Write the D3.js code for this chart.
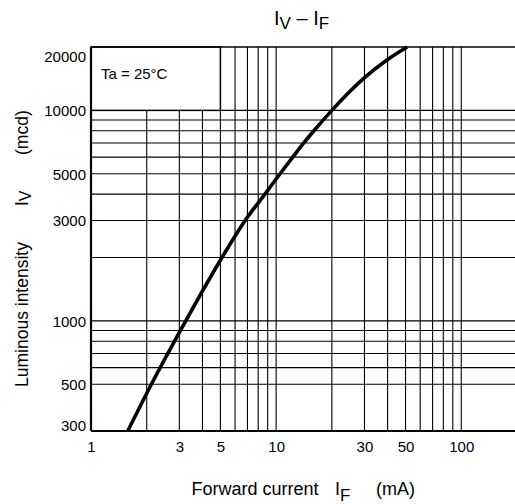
<!DOCTYPE html>
<html>
<head>
<meta charset="utf-8">
<script src="https://cdn.jsdelivr.net/npm/d3@7"></script>
<style>
  body { margin: 0; background: #fff; }
  svg { display: block; font-family: "Liberation Sans", Arial, sans-serif; }
</style>
</head>
<body>
<div id="chart"></div>
<script>
// IV - IF curve (Ta = 25°C)
const forwardCurrent = [1.58, 2.12, 3.25, 5.1, 6.8, 8.7, 10.5, 12.3, 14.1, 16.0, 20, 29.5, 39.5, 51];
const luminousIntensity = [300, 500, 1000, 2000, 3000, 4000, 5000, 6000, 7000, 8000, 10000, 14100, 17300, 20000];

const xTicks = [1, 3, 5, 10, 30, 50, 100];
const yTicks = [300, 500, 1000, 3000, 5000, 10000, 20000];
const xGrid = [2, 3, 4, 5, 6, 7, 8, 9, 10, 20, 30, 40, 50, 60, 70, 80, 90, 100];
const yGrid = [500, 600, 700, 800, 900, 1000, 2000, 3000, 4000, 5000, 6000, 7000, 8000, 9000, 10000];

const width = 515, height = 504;
const margin = { top: 47, left: 91, bottom: 73 };

const svg = d3.select("#chart").append("svg")
    .attr("width", width)
    .attr("height", height);

const x = d3.scaleLog().domain([1, 200]).range([margin.left, 517]);
const y = d3.scaleLog().domain([300, 20000]).range([height - margin.bottom, margin.top]);

const yTop = y.range()[1], yBottom = y.range()[0];

// grid
const grid = svg.append("g").attr("stroke", "#000").attr("stroke-width", 1.1);
grid.selectAll(".v").data(xGrid).join("line")
    .attr("x1", d => x(d)).attr("x2", d => x(d))
    .attr("y1", yBottom).attr("y2", yTop);
grid.selectAll(".h").data(yGrid).join("line")
    .attr("x1", margin.left).attr("x2", width)
    .attr("y1", d => y(d)).attr("y2", d => y(d));

// legend box in top-left corner
svg.append("rect")
    .attr("x", margin.left).attr("y", yTop)
    .attr("width", x(5) - margin.left).attr("height", y(10000) - yTop)
    .attr("fill", "#fff").attr("stroke", "#000").attr("stroke-width", 1.5);
svg.append("text")
    .attr("x", 101).attr("y", 79)
    .style("font-size", "15px")
    .text("Ta = 25°C");

// frame
svg.append("line").attr("x1", margin.left).attr("x2", width).attr("y1", yTop).attr("y2", yTop)
    .attr("stroke", "#000").attr("stroke-width", 1.6);
svg.append("line").attr("x1", margin.left).attr("x2", margin.left).attr("y1", yTop).attr("y2", yBottom)
    .attr("stroke", "#000").attr("stroke-width", 2.2);
svg.append("line").attr("x1", margin.left).attr("x2", width).attr("y1", yBottom).attr("y2", yBottom)
    .attr("stroke", "#000").attr("stroke-width", 2.2);

// curve
const pts = forwardCurrent.map((f, i) => [f, luminousIntensity[i]]);
const line = d3.line()
    .x(d => x(d[0]))
    .y(d => y(d[1]))
    .curve(d3.curveMonotoneX);
svg.append("path")
    .datum(pts)
    .attr("d", line)
    .attr("fill", "none")
    .attr("stroke", "#000")
    .attr("stroke-width", 3.6);

// axes
const xAxis = svg.append("g")
    .attr("transform", `translate(0,${yBottom})`)
    .call(d3.axisBottom(x).tickValues(xTicks).tickSize(0).tickPadding(10).tickFormat(d3.format("d")));
const yAxis = svg.append("g")
    .attr("transform", `translate(${margin.left},0)`)
    .call(d3.axisLeft(y).tickValues(yTicks).tickSize(0).tickPadding(5).tickFormat(d3.format("d")));
[xAxis, yAxis].forEach(a => {
    a.select(".domain").remove();
    a.selectAll("text")
        .attr("fill", "#000")
        .style("font-size", "15px")
        .style("font-family", "Liberation Sans, Arial, sans-serif");
});
// keep the end labels inside the frame
yAxis.selectAll(".tick text")
    .attr("dy", d => d === 20000 ? "0.95em" : d === 300 ? "-0.05em" : "0.35em");

// title
const title = svg.append("text")
    .attr("x", 274).attr("y", 25)
    .style("font-size", "20px");
title.append("tspan").text("I");
title.append("tspan").attr("dy", 4).style("font-size", "17px").text("V");
title.append("tspan").attr("dy", -4).text(" – I");
title.append("tspan").attr("dy", 4).style("font-size", "17px").text("F");

// x label
const xl = svg.append("text")
    .attr("y", 495)
    .style("font-size", "18px");
xl.append("tspan").attr("x", 191.5).text("Forward current");
xl.append("tspan").attr("x", 335).text("I");
xl.append("tspan").attr("dy", 6).style("font-size", "17px").text("F");
xl.append("tspan").attr("x", 376).attr("dy", -6).text("(mA)");

// y label
const yl = svg.append("text")
    .attr("transform", "translate(28,387) rotate(-90)")
    .style("font-size", "17.5px");
yl.append("tspan").attr("x", 0).text("Luminous intensity");
yl.append("tspan").attr("x", 181).text("I");
yl.append("tspan").attr("dy", 3).style("font-size", "16px").text("V");
yl.append("tspan").attr("x", 232).attr("dy", -3).text("(mcd)");
</script>
</body>
</html>
